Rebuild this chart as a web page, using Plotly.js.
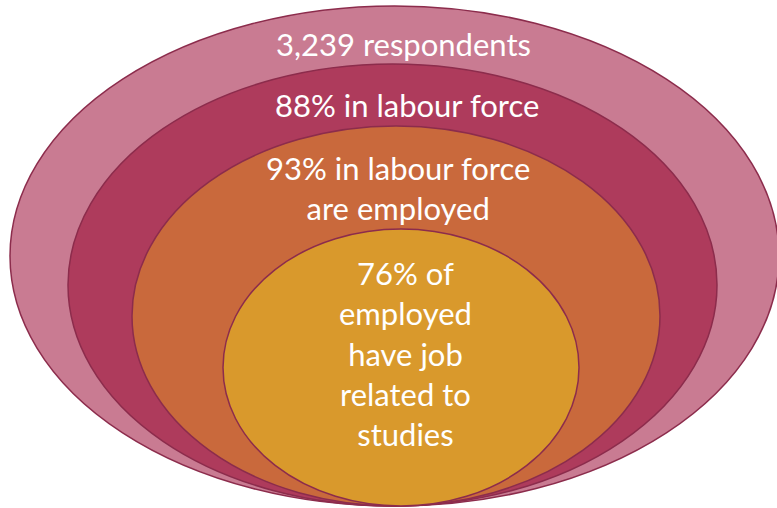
<!DOCTYPE html>
<html>
<head>
<meta charset="utf-8">
<script src="https://cdn.plot.ly/plotly-3.0.1.min.js"></script>
<style>html,body{margin:0;padding:0;background:#fff;}#chart{width:777px;height:508px;}</style>
</head>
<body>
<div id="chart"></div>
<script>
// Nested ellipse levels (outer to inner)
const levels = ["Respondents", "In labour force", "Employed", "Job related to studies"];
const labels = [
  "3,239 respondents",
  "88% in labour force",
  "93% in labour force<br>are employed",
  "76% of<br>employed<br>have job<br>related to<br>studies"
];
// ellipse extents in chart units (x: 0-777, y: 0-508 top-down)
const ellX0 = [10, 68, 132, 223];
const ellX1 = [779, 717, 660, 579];
const ellY0 = [6, 64, 126, 229];
const ellY1 = [506, 506, 506, 506];
const fillColors = ["#C97B92", "#AE3B5C", "#C9693C", "#D9992C"];
// label anchor positions
const labelX = [403, 407, 398, 405];
const labelY = [44, 105, 188, 353];

const shapes = levels.map((l, i) => ({
  type: "circle", xref: "x", yref: "y",
  x0: ellX0[i], x1: ellX1[i], y0: ellY0[i], y1: ellY1[i],
  fillcolor: fillColors[i], opacity: 1,
  line: {color: "#8C2C4C", width: 1.5},
  layer: "below"
}));

const annotations = labels.map((t, i) => ({
  x: labelX[i], y: labelY[i], xref: "x", yref: "y",
  text: t, showarrow: false, align: "center",
  font: {family: "Lato, 'Open Sans', sans-serif", size: 31, color: "#ffffff"}
}));

Plotly.newPlot("chart", [{x: [], y: [], type: "scatter", hoverinfo: "skip"}], {
  width: 777, height: 508,
  margin: {l: 0, r: 0, t: 0, b: 0},
  paper_bgcolor: "#ffffff", plot_bgcolor: "#ffffff",
  xaxis: {range: [0, 777], visible: false, fixedrange: true},
  yaxis: {range: [508, 0], visible: false, fixedrange: true},
  showlegend: false,
  shapes: shapes,
  annotations: annotations
}, {displayModeBar: false, staticPlot: true});
</script>
</body>
</html>
